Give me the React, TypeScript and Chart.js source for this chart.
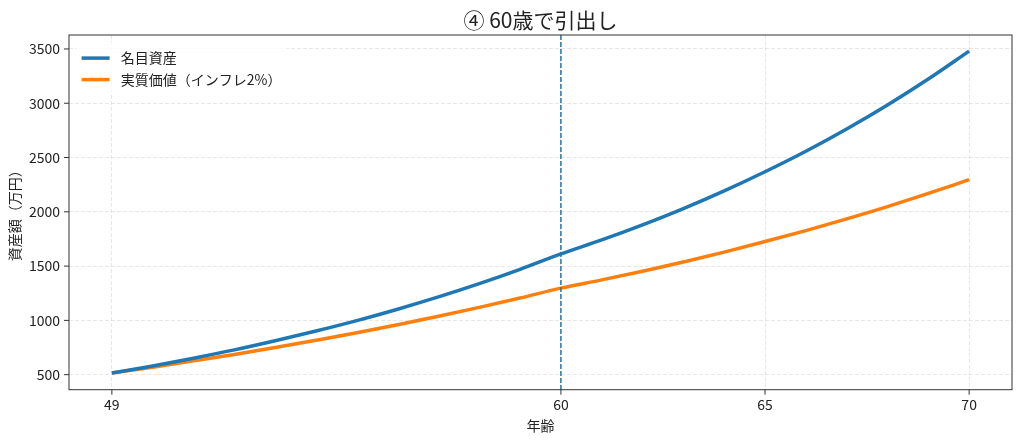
import React, { useEffect, useRef } from "react";
import { Chart, registerables } from "chart.js";

Chart.register(...registerables);

// 年齢（x軸）
const ages: number[] = [49, 50, 51, 52, 53, 54, 55, 56, 57, 58, 59, 60, 61, 62, 63, 64, 65, 66, 67, 68, 69, 70];
// 名目資産（万円）
const nominal: number[] = [515, 580, 652, 728, 812, 902, 998, 1103, 1216, 1338, 1470, 1612, 1741, 1880, 2030, 2193, 2369, 2558, 2763, 2984, 3223, 3480];
// 実質価値（インフレ2%）
const real: number[] = [515, 569, 627, 686, 750, 817, 886, 960, 1038, 1120, 1206, 1297, 1373, 1453, 1538, 1629, 1726, 1827, 1935, 2048, 2169, 2296];

const xTicks: number[] = [49, 60, 65, 70];
const yTicks: number[] = [500, 1000, 1500, 2000, 2500, 3000, 3500];
const withdrawAge = 60;

const titleText = "④ 60歳で引出し";
const xLabel = "年齢";
const yLabel = "資産額（万円）";
const seriesLabels = ["名目資産", "実質価値（インフレ2%）"];

const FONT = "'Noto Sans CJK JP', 'Noto Sans', sans-serif";
const BLUE = "#1f77b4";
const ORANGE = "#ff7f0e";
const TEXT = "#222";

const overlayPlugin = {
  id: "overlay",
  afterDatasetsDraw(chart: any) {
    const { ctx, chartArea: a, scales } = chart;
    const px = scales.x.getPixelForValue(withdrawAge);
    ctx.save();
    ctx.strokeStyle = BLUE;
    ctx.lineWidth = 1.5;
    ctx.setLineDash([5, 2]);
    ctx.beginPath();
    ctx.moveTo(px, a.top);
    ctx.lineTo(px, a.bottom);
    ctx.stroke();
    ctx.restore();
  },
  afterDraw(chart: any) {
    const { ctx, chartArea: a, scales } = chart;
    ctx.save();
    // タイトル（プロット領域の中央）
    ctx.font = `21px ${FONT}`;
    ctx.fillStyle = TEXT;
    ctx.textAlign = "center";
    ctx.textBaseline = "middle";
    ctx.fillText(titleText, (a.left + a.right) / 2, 20);

    // 枠
    ctx.strokeStyle = "#333";
    ctx.lineWidth = 1;
    ctx.strokeRect(a.left, a.top, a.right - a.left, a.bottom - a.top);
    // 目盛り線
    ctx.beginPath();
    scales.x.ticks.forEach((t: any) => {
      const px = scales.x.getPixelForValue(t.value);
      ctx.moveTo(px, a.bottom);
      ctx.lineTo(px, a.bottom + 5);
    });
    scales.y.ticks.forEach((t: any) => {
      const py = scales.y.getPixelForValue(t.value);
      ctx.moveTo(a.left, py);
      ctx.lineTo(a.left - 5, py);
    });
    ctx.stroke();

    // 凡例
    const ds = chart.data.datasets;
    const boxX = a.left + 7;
    const boxY = a.top + 7;
    ctx.font = `14px ${FONT}`;
    const textW = Math.max(...ds.map((d: any) => ctx.measureText(d.label).width));
    const rowH = 21.5;
    ctx.fillStyle = "rgba(255,255,255,0.8)";
    ctx.fillRect(boxX, boxY, 5.6 + 28 + 11.2 + textW + 5.6, 5.6 + rowH * ds.length + 3);
    ds.forEach((d: any, i: number) => {
      const cy = boxY + 5.6 + 10.5 + i * rowH;
      ctx.strokeStyle = d.borderColor;
      ctx.lineWidth = 3.5;
      ctx.beginPath();
      ctx.moveTo(boxX + 5.6, cy);
      ctx.lineTo(boxX + 5.6 + 28, cy);
      ctx.stroke();
      ctx.fillStyle = TEXT;
      ctx.textBaseline = "middle";
      ctx.textAlign = "left";
      ctx.fillText(d.label, boxX + 5.6 + 28 + 11.2, cy);
    });
    ctx.restore();
  },
};

const App: React.FC = () => {
  const canvasRef = useRef<HTMLCanvasElement>(null);

  useEffect(() => {
    if (!canvasRef.current) return;
    const ctx = canvasRef.current.getContext("2d");
    if (!ctx) return;

    const chart = new Chart(ctx, {
      type: "line",
      data: {
        datasets: [
          {
            label: seriesLabels[0],
            data: ages.map((a, i) => ({ x: a, y: nominal[i] })),
            borderColor: BLUE,
            borderWidth: 3.5,
            pointRadius: 0,
            cubicInterpolationMode: "monotone",
            fill: false,
          },
          {
            label: seriesLabels[1],
            data: ages.map((a, i) => ({ x: a, y: real[i] })),
            borderColor: ORANGE,
            borderWidth: 3.5,
            pointRadius: 0,
            cubicInterpolationMode: "monotone",
            fill: false,
          },
        ],
      },
      options: {
        responsive: false,
        animation: false,
        layout: { padding: { left: 0, right: 12, top: 35, bottom: 0 } },
        plugins: {
          legend: { display: false },
          tooltip: { enabled: false },
          title: { display: false },
        },
        scales: {
          x: {
            type: "linear",
            min: 47.95,
            max: 71.05,
            afterBuildTicks: (s: any) => {
              s.ticks = xTicks.map((v) => ({ value: v }));
            },
            afterFit: (s: any) => {
              s.height = 53.3;
            },
            ticks: {
              color: TEXT,
              font: { family: FONT, size: 14 },
              padding: 7,
              maxRotation: 0,
              autoSkip: false,
              callback: (v: any) => String(v),
            },
            grid: { color: "rgba(176,176,176,0.3)", lineWidth: 1, drawTicks: false },
            border: { display: false, dash: [4, 2] },
            title: {
              display: true,
              text: xLabel,
              color: TEXT,
              font: { family: FONT, size: 14 },
              padding: { top: 0, bottom: 9 },
            },
          },
          y: {
            type: "linear",
            min: 361.5,
            max: 3628.5,
            afterBuildTicks: (s: any) => {
              s.ticks = yTicks.map((v) => ({ value: v }));
            },
            afterFit: (s: any) => {
              s.width = 69;
            },
            ticks: {
              color: TEXT,
              font: { family: FONT, size: 14 },
              padding: 9,
              autoSkip: false,
              callback: (v: any) => String(v),
            },
            grid: { color: "rgba(176,176,176,0.3)", lineWidth: 1, drawTicks: false },
            border: { display: false, dash: [4, 2] },
            title: {
              display: true,
              text: yLabel,
              color: TEXT,
              font: { family: FONT, size: 14 },
              padding: { top: 6, bottom: 0 },
            },
          },
        },
      },
      plugins: [overlayPlugin],
    });

    return () => {
      chart.destroy();
    };
  }, []);

  return (
    <div style={{ position: "fixed", left: 0, top: 0, width: 1024, height: 443, background: "#fff" }}>
      <canvas ref={canvasRef} width={1024} height={443} style={{ display: "block", width: 1024, height: 443 }}></canvas>
    </div>
  );
};

export default App;
